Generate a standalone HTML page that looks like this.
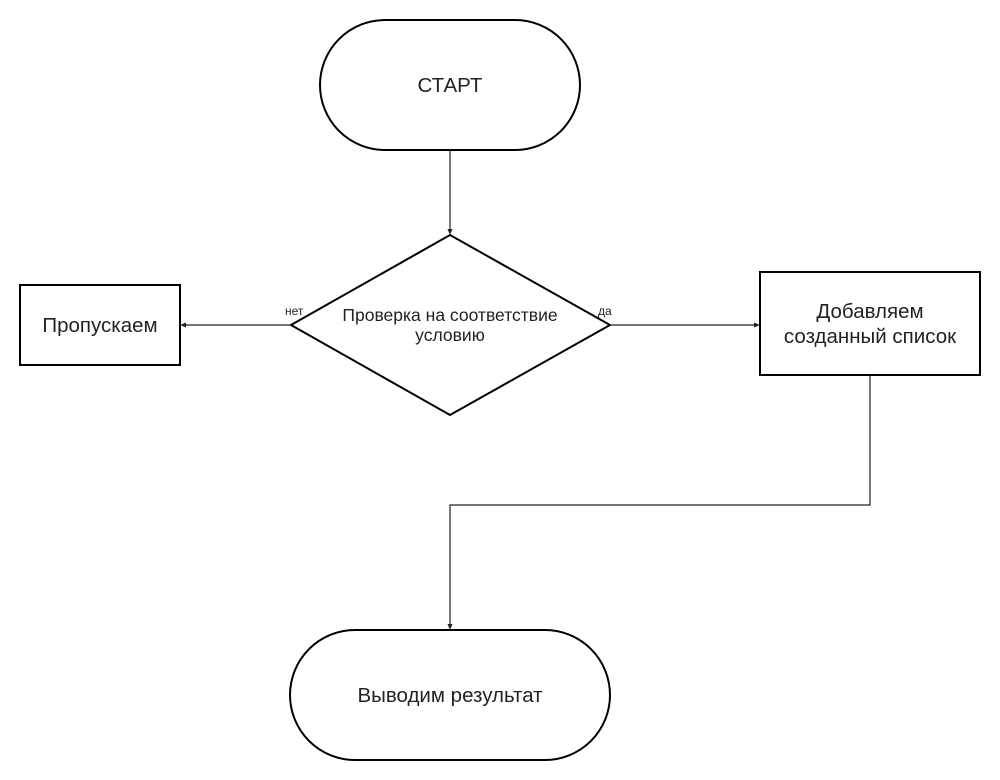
<!DOCTYPE html>
<html><head><meta charset="utf-8"><style>
html,body{margin:0;padding:0;background:#fff;}
svg{display:block;}
text{font-family:"Liberation Sans",Arial,sans-serif;fill:#222;}
</style></head><body>
<svg width="1000" height="780" viewBox="0 0 1000 780" xmlns="http://www.w3.org/2000/svg">
<g fill="#fff" stroke="#000" stroke-width="2">
<rect x="320" y="20" width="260" height="130" rx="65" ry="65"/>
<polygon points="450,235 610,325 450,415 291,325"/>
<rect x="20" y="285" width="160" height="80"/>
<rect x="760" y="272" width="220" height="103"/>
<rect x="290" y="630" width="320" height="130" rx="65" ry="65"/>
</g>
<g fill="none" stroke="#222" stroke-width="1.2">
<line x1="450" y1="150" x2="450" y2="232"/>
<line x1="291" y1="325" x2="183" y2="325"/>
<line x1="610" y1="325" x2="757" y2="325"/>
<polyline points="870,375 870,505 450,505 450,627"/>
</g>
<g fill="#222">
<polygon points="447.5,229 452.5,229 450,235"/>
<polygon points="186,322.5 186,327.5 180,325"/>
<polygon points="754,322.5 754,327.5 760,325"/>
<polygon points="447.5,624 452.5,624 450,630"/>
</g>
<g font-size="20.5" text-anchor="middle">
<text x="450" y="92">СТАРТ</text>
<text x="100" y="332">Пропускаем</text>
<text x="870" y="318">Добавляем</text>
<text x="870" y="343">созданный список</text>
<text x="450" y="702">Выводим результат</text>
</g>
<g font-size="17.5" text-anchor="middle">
<text x="450" y="321">Проверка на соответствие</text>
<text x="450" y="341">условию</text>
</g>
<g font-size="12">
<text x="285" y="315">нет</text>
<text x="598" y="315">да</text>
</g>
</svg>
</body></html>
